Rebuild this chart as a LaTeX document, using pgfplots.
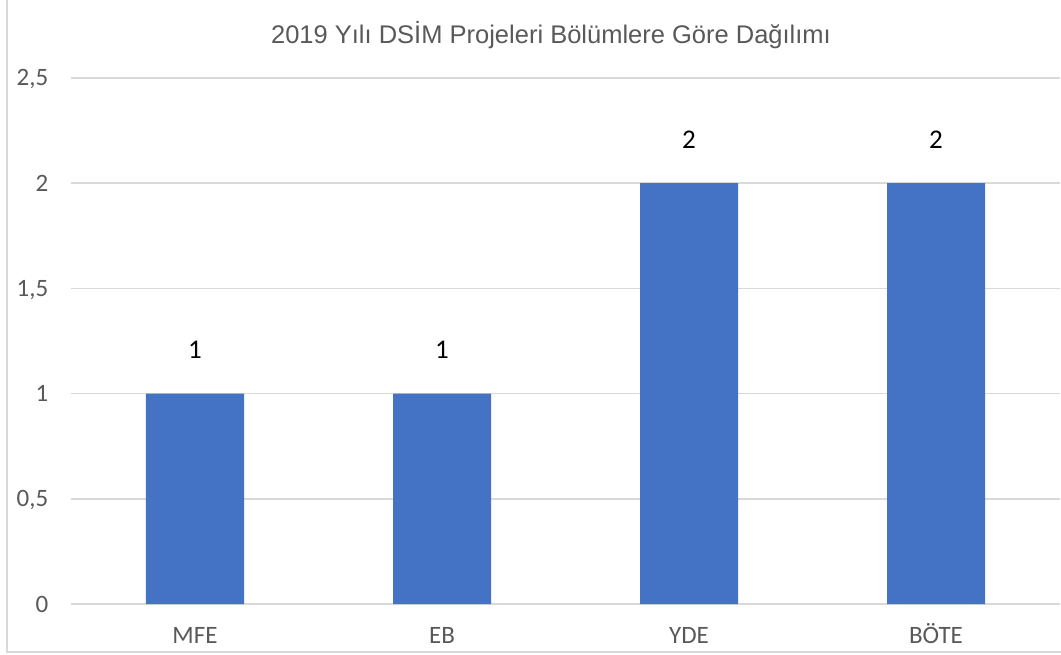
\documentclass[border=0pt]{standalone}
\usepackage{fontspec}
\setmainfont{Carlito}
\newfontfamily\titlefont{Liberation Sans}
\usepackage{pgfplots}
\pgfplotsset{compat=1.18}
\definecolor{barblue}{HTML}{4472C4}
\definecolor{gridgray}{HTML}{D9D9D9}
\definecolor{txtgray}{HTML}{595959}
\begin{document}
\begin{tikzpicture}[x=1pt,y=1pt]
\useasboundingbox (0,0) rectangle (1061,654);
\draw[gridgray, line width=2pt] (7,654) -- (7,2) -- (1061,2);
\node[font=\titlefont\fontsize{25.5}{29}\selectfont, text=txtgray, anchor=base] at (551,654-44) {2019 Yılı DSİM Projeleri Bölümlere Göre Dağılımı};
\begin{axis}[
  at={(71.5pt,50pt)}, anchor=south west,
  scale only axis, width=988pt, height=526pt,
  xmin=-0.5, xmax=3.5, ymin=0, ymax=2.5,
  ybar, bar width=98pt,
  axis line style={draw=none},
  major tick length=0pt,
  ymajorgrids, major grid style={gridgray, line width=1.5pt},
  xtick={0,1,2,3}, xticklabels={MFE,EB,YDE,BÖTE},
  ytick={0,0.5,1,1.5,2,2.5}, yticklabels={0,{0,5},1,{1,5},2,{2,5}},
  xticklabel style={font=\fontsize{25}{29}\selectfont, text=txtgray, anchor=base, inner sep=0pt, yshift=-39pt},
  yticklabel style={font=\fontsize{25}{29}\selectfont, text=txtgray, anchor=base east, inner sep=0pt, xshift=-23pt, yshift=-8pt},
  /pgf/number format/assume math mode=true,
  nodes near coords,
  every node near coord/.append style={font=\fontsize{27}{30}\selectfont, text=black, anchor=base, inner sep=0pt, yshift=35pt},
  clip=false,
]
\addplot[fill=barblue, draw=none] coordinates {(0,1) (1,1) (2,2) (3,2)};
\end{axis}
\end{tikzpicture}
\end{document}
